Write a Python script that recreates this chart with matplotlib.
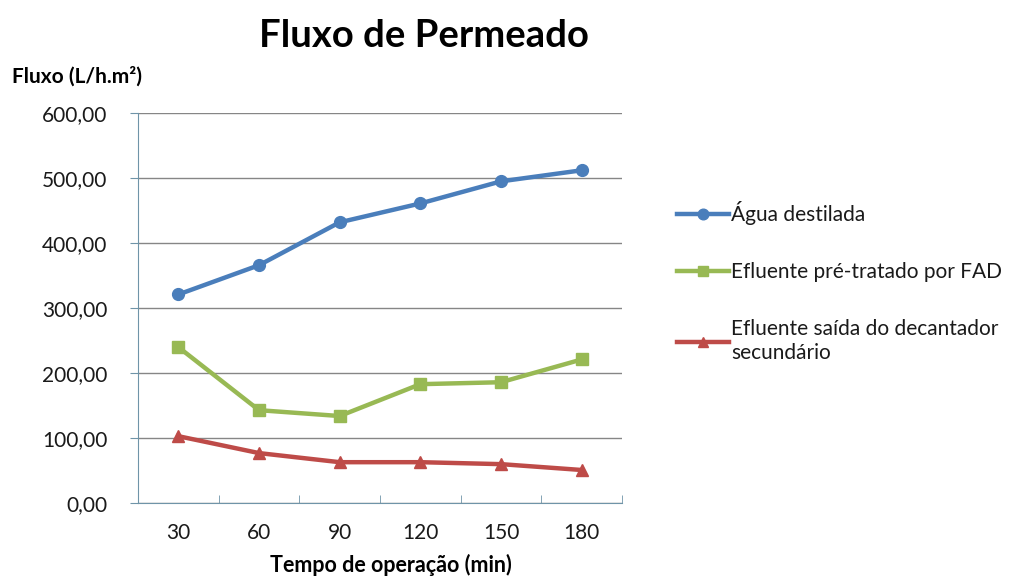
import matplotlib.pyplot as plt
from matplotlib.ticker import FuncFormatter

plt.rcParams['font.family'] = ['Lato', 'DejaVu Sans']

tempo = ["30", "60", "90", "120", "150", "180"]
agua_destilada = [321, 366, 432, 461, 495, 512]
efluente_fad = [240, 143, 134, 183, 186, 221]
efluente_decantador = [103, 77, 63, 63, 60, 51]

series = [
    (agua_destilada, "Água destilada", "#4A7EBB", "o"),
    (efluente_fad, "Efluente pré-tratado por FAD", "#98B954", "s"),
    (efluente_decantador, "Efluente saída do decantador\nsecundário", "#BE4B48", "^"),
]

fig = plt.figure(figsize=(10.09, 5.77), dpi=100)
ax = fig.add_axes([0.1368, 0.128, 0.4796, 0.676])

x = range(len(tempo))
for values, label, color, marker in series:
    ax.plot(x, values, color=color, lw=3.2, marker=marker, markersize=8.5,
            label=label, zorder=3)

ax.set_xlim(-0.5, len(tempo) - 0.5)
ax.set_ylim(0, 600)
ax.set_yticks(range(0, 601, 100))
ax.yaxis.set_major_formatter(FuncFormatter(lambda v, p: f"{v:.2f}".replace(".", ",")))
ax.set_xticks(list(x))
ax.set_xticklabels(tempo)
ax.set_xticks([i - 0.5 for i in range(len(tempo) + 1)], minor=True)

ax.grid(axis="y", color="#868686", lw=1)
ax.set_axisbelow(True)
for s in ["top", "right"]:
    ax.spines[s].set_visible(False)
for s in ["left", "bottom"]:
    ax.spines[s].set_color("#6F94A8")
ax.tick_params(axis="x", which="major", length=0, pad=14, labelsize=15, labelcolor="#1a1a1a")
ax.tick_params(axis="x", which="minor", length=6, color="#6F94A8", direction="in")
ax.tick_params(axis="y", length=6, color="#6F94A8", labelsize=15, labelcolor="#1a1a1a", pad=16)

fig.text(0.42, 0.937, "Fluxo de Permeado", ha="center", va="center",
         fontsize=27.5, fontweight="bold")
fig.text(0.012, 0.868, "Fluxo (L/h.m²)", ha="left", va="center",
         fontsize=15, fontweight="bold")
fig.text(0.387, 0.02, "Tempo de operação (min)", ha="center", va="center",
         fontsize=15.5, fontweight="bold")

leg = fig.legend(loc="upper left", bbox_to_anchor=(0.652, 0.684), frameon=False,
                 fontsize=15, handlelength=2.5, handletextpad=0.1,
                 labelspacing=1.78, markerscale=0.9)
for t in leg.get_texts():
    t.set_color("#1a1a1a")
    t.set_linespacing(1.25)

fig.savefig("out.png", dpi=100)
